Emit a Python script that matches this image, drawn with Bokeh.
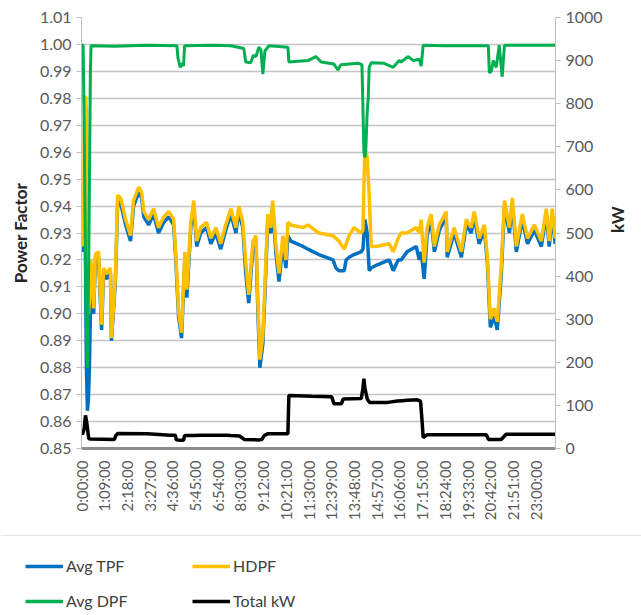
import math
from bokeh.plotting import figure
from bokeh.layouts import column
from bokeh.models import (Range1d, LinearAxis, FixedTicker, PrintfTickFormatter,
                          Legend, LegendItem, ColumnDataSource, Span)
from bokeh.embed import file_html
from bokeh.resources import INLINE

# ---------------- data (minutes since midnight) ----------------
X_LABELS = ["0:00:00", "1:09:00", "2:18:00", "3:27:00", "4:36:00", "5:45:00", "6:54:00",
            "8:03:00", "9:12:00", "10:21:00", "11:30:00", "12:39:00", "13:48:00", "14:57:00",
            "16:06:00", "17:15:00", "18:24:00", "19:33:00", "20:42:00", "21:51:00", "23:00:00"]
PF_TICKS = [0.85, 0.86, 0.87, 0.88, 0.89, 0.90, 0.91, 0.92, 0.93, 0.94, 0.95,
            0.96, 0.97, 0.98, 0.99, 1.00, 1.01]
KW_TICKS = [0, 100, 200, 300, 400, 500, 600, 700, 800, 900, 1000]

T_PF = [0, 3, 6, 9, 12, 15, 18, 21, 24, 27,
        30, 37, 42, 52, 61, 67, 76, 88, 91, 103,
        110, 119, 134, 149, 158, 174, 183, 189, 204, 219,
        234, 250, 265, 280, 286, 295, 304, 314, 320, 332,
        341, 350, 362, 380, 393, 408, 423, 438, 454, 469,
        478, 490, 499, 508, 521, 530, 536, 542, 551, 560,
        566, 575, 581, 591, 600, 612, 621, 627, 636, 673,
        688, 721, 764, 773, 782, 798, 804, 813, 828, 849,
        855, 861, 868, 874, 880, 895, 935, 947, 962, 971,
        989, 1017, 1026, 1032, 1041, 1050, 1062, 1072, 1087, 1108,
        1111, 1132, 1154, 1169, 1184, 1193, 1208, 1224, 1233, 1242,
        1254, 1263, 1275, 1285, 1300, 1309, 1321, 1339, 1355, 1376,
        1397, 1412, 1421, 1430, 1439]

HDPF = [0.943, 0.925, 0.930, 0.970, 0.981, 0.975, 0.930, 0.900, 0.905, 0.920,
        0.918, 0.902, 0.922, 0.923, 0.896, 0.917, 0.915, 0.917, 0.891, 0.914,
        0.944, 0.943, 0.935, 0.929, 0.942, 0.947, 0.945, 0.938, 0.935, 0.939,
        0.932, 0.936, 0.938, 0.935, 0.923, 0.901, 0.893, 0.923, 0.909, 0.934,
        0.942, 0.927, 0.932, 0.934, 0.928, 0.932, 0.926, 0.933, 0.939, 0.932,
        0.940, 0.934, 0.919, 0.907, 0.927, 0.929, 0.904, 0.883, 0.892, 0.919,
        0.937, 0.932, 0.942, 0.925, 0.915, 0.929, 0.920, 0.934, 0.933, 0.932,
        0.933, 0.930, 0.929, 0.928, 0.927, 0.924, 0.926, 0.929, 0.932, 0.930,
        0.931, 0.962, 0.958, 0.944, 0.925, 0.925, 0.926, 0.923, 0.928, 0.930,
        0.930, 0.932, 0.930, 0.935, 0.919, 0.932, 0.937, 0.925, 0.933, 0.938,
        0.923, 0.932, 0.923, 0.935, 0.932, 0.938, 0.928, 0.933, 0.921, 0.898,
        0.902, 0.897, 0.917, 0.942, 0.932, 0.943, 0.925, 0.937, 0.928, 0.933,
        0.927, 0.939, 0.927, 0.939, 0.928]

AVG_TPF = [0.940, 0.923, 0.928, 0.945, 0.920, 0.880, 0.864, 0.868, 0.880, 0.900,
           0.915, 0.900, 0.920, 0.921, 0.894, 0.915, 0.913, 0.915, 0.890, 0.912,
           0.942, 0.941, 0.933, 0.927, 0.940, 0.945, 0.943, 0.936, 0.933, 0.937,
           0.930, 0.934, 0.936, 0.933, 0.921, 0.899, 0.891, 0.921, 0.906, 0.932,
           0.940, 0.925, 0.930, 0.932, 0.926, 0.930, 0.924, 0.931, 0.937, 0.930,
           0.938, 0.932, 0.915, 0.904, 0.925, 0.927, 0.900, 0.880, 0.889, 0.916,
           0.935, 0.930, 0.940, 0.922, 0.912, 0.926, 0.917, 0.929, 0.927, 0.925,
           0.924, 0.922, 0.920, 0.917, 0.916, 0.916, 0.920, 0.921, 0.922, 0.923,
           0.924, 0.935, 0.930, 0.916, 0.917, 0.918, 0.920, 0.916, 0.920, 0.920,
           0.923, 0.925, 0.920, 0.923, 0.913, 0.929, 0.935, 0.923, 0.931, 0.936,
           0.921, 0.930, 0.921, 0.933, 0.930, 0.936, 0.926, 0.931, 0.919, 0.895,
           0.899, 0.894, 0.914, 0.940, 0.930, 0.941, 0.923, 0.935, 0.926, 0.931,
           0.925, 0.937, 0.925, 0.937, 0.926]

T_DPF = [0, 5, 8, 14, 18, 22, 25, 27, 29,
         100, 200, 290, 293, 300, 305, 310, 313,
         400, 454, 493, 499, 514, 522, 530, 539, 545, 551, 557, 569,
         627, 630, 688, 712, 728, 767, 779, 788, 840, 852,
         858, 861, 864, 868, 871, 874, 880,
         919, 947, 965, 971, 992, 1008, 1026, 1032, 1038,
         1100, 1236, 1239, 1245, 1251, 1260, 1269, 1278, 1285, 1439]
AVG_DPF = [1.0, 0.9995, 0.97, 0.90, 0.88, 0.92, 0.96, 0.99, 0.9995,
           0.9993, 0.9997, 0.9995, 0.995, 0.9915, 0.993, 0.992, 0.9995,
           0.9997, 0.9995, 0.9985, 0.9935, 0.9932, 0.996, 0.9955, 0.999, 0.998, 0.989, 0.9975, 0.9995,
           0.999, 0.9935, 0.994, 0.9955, 0.9935, 0.9927, 0.9905, 0.9925, 0.993, 0.9925,
           0.96, 0.958, 0.962, 0.975, 0.98, 0.9915, 0.9932,
           0.993, 0.9915, 0.994, 0.9935, 0.9955, 0.994, 0.9945, 0.992, 0.9997,
           0.9995, 0.9995, 0.9895, 0.990, 0.994, 0.9915, 0.9997, 0.988, 0.9997, 0.9997]

T_KW = [0, 3, 8, 12, 16, 22, 27,
        100, 104, 110, 200, 270, 285, 288, 300, 310, 313,
        340, 362, 440, 454, 480, 495, 540, 548, 555, 565,
        627, 630, 700, 760, 767, 790, 795, 850, 855, 858,
        861, 868, 875, 930, 960, 975, 990, 1020, 1030, 1035,
        1038, 1050, 1230, 1236, 1275, 1290, 1439]
TOTAL_KW = [35, 33, 45, 77, 60, 23, 22,
            21, 30, 35, 34, 31, 31, 20, 19, 19, 30,
            30, 31, 31, 30, 29, 21, 20, 21, 30, 34,
            34, 123, 121, 120, 104, 104, 115, 116, 140, 162,
            140, 115, 107, 107, 110, 111, 112, 113, 110, 60,
            25, 32, 32, 21, 21, 33, 33]

# ---------------- styling ----------------
FONT = "Lato"
TXT = "#595959"
C_TPF, C_HDPF, C_DPF, C_KW = "#0070C0", "#FFC000", "#00B050", "#000000"


def to_min(s):
    h, m, _ = s.split(":")
    return int(h) * 60 + int(m)


tick_min = [to_min(s) for s in X_LABELS]

src_pf = ColumnDataSource(dict(t=T_PF, tpf=AVG_TPF, hdpf=HDPF))
src_dpf = ColumnDataSource(dict(t=T_DPF, dpf=AVG_DPF))
src_kw = ColumnDataSource(dict(t=T_KW, kw=TOTAL_KW))

p = figure(frame_width=474, frame_height=431, output_backend="svg", toolbar_location=None,
           x_range=Range1d(0, 1440), y_range=Range1d(0.85, 1.01),
           min_border_left=81, min_border_right=80, min_border_top=17, min_border_bottom=80,
           background_fill_color="white", border_fill_color="white")
p.outline_line_color = None
p.extra_y_ranges = {"kw": Range1d(0, 1000)}

pf_ticker = FixedTicker(ticks=PF_TICKS)
ya = p.yaxis[0]
ya.ticker = pf_ticker
ya.formatter = PrintfTickFormatter(format="%.2f")
ya.axis_label = "Power Factor"
ya.axis_label_text_font = FONT
ya.axis_label_text_font_style = "bold"
ya.axis_label_text_font_size = "17px"
ya.axis_label_text_color = "#262626"
ya.axis_label_standoff = 6
ya.major_label_text_font = FONT
ya.major_label_text_font_size = "16px"
ya.major_label_text_color = TXT
ya.axis_line_color = "#bfbfbf"
ya.major_tick_line_color = "#bfbfbf"
ya.major_tick_out = 5
ya.major_tick_in = 0
ya.minor_tick_line_color = None

ra = LinearAxis(y_range_name="kw", ticker=FixedTicker(ticks=KW_TICKS), axis_label="kW")
ra.axis_label_text_font = FONT
ra.axis_label_text_font_style = "bold"
ra.axis_label_text_font_size = "17px"
ra.axis_label_text_color = "#262626"
ra.axis_label_standoff = 12
ra.axis_label_orientation = math.pi / 2
ra.major_label_text_font = FONT
ra.major_label_text_font_size = "16px"
ra.major_label_text_color = TXT
ra.axis_line_color = "#bfbfbf"
ra.major_tick_line_color = "#bfbfbf"
ra.major_tick_out = 5
ra.major_tick_in = 0
ra.minor_tick_line_color = None
p.add_layout(ra, "right")

xa = p.xaxis[0]
xa.ticker = FixedTicker(ticks=tick_min)
xa.major_label_overrides = {m: s for m, s in zip(tick_min, X_LABELS)}
xa.major_label_orientation = math.pi / 2
xa.major_label_text_font = FONT
xa.major_label_text_font_size = "15px"
xa.major_label_text_color = TXT
xa.axis_line_color = "#8c8c8c"
xa.axis_line_width = 3
xa.major_tick_line_color = None
xa.minor_tick_line_color = None
xa.major_label_standoff = 6

p.xgrid.visible = False
p.ygrid.ticker = pf_ticker
p.ygrid.grid_line_color = "#c4c4c4"
p.ygrid.grid_line_width = 1.5

p.line("t", "tpf", source=src_pf, line_color=C_TPF, line_width=3.5)
p.line("t", "hdpf", source=src_pf, line_color=C_HDPF, line_width=3.5)
p.line("t", "dpf", source=src_dpf, line_color=C_DPF, line_width=3)
p.line("t", "kw", source=src_kw, line_color=C_KW, line_width=3.5, y_range_name="kw")

# ---------------- legend strip below the chart ----------------
# Same series drawn again in a strip whose x range lies beyond the data,
# so only the legend samples are visible there.
LEG_H = 84
lf = figure(width=641, height=LEG_H, output_backend="svg", toolbar_location=None,
            x_range=Range1d(3000, 3641), y_range=Range1d(0, LEG_H),
            x_axis_type=None, y_axis_type=None,
            min_border_left=0, min_border_right=0, min_border_top=0, min_border_bottom=0,
            background_fill_color="white", border_fill_color="white")
for fig in (p, lf):
    try:
        fig.frame_align = False
    except Exception:
        pass
lf.outline_line_color = None
lf.xgrid.visible = False
lf.ygrid.visible = False
lf.add_layout(Span(location=LEG_H - 7, dimension="width", line_color="#e3e3e3", line_width=1))

l_tpf = lf.line("t", "tpf", source=src_pf, line_color=C_TPF, line_width=3.5)
l_hdpf = lf.line("t", "hdpf", source=src_pf, line_color=C_HDPF, line_width=3.5)
l_dpf = lf.line("t", "dpf", source=src_dpf, line_color=C_DPF, line_width=3.5)
l_kw = lf.line("t", "kw", source=src_kw, line_color=C_KW, line_width=3.5)


def make_legend(items, x):
    lg = Legend(items=items, location=(x, 2), orientation="vertical",
                glyph_width=38, glyph_height=16, label_height=16, label_standoff=3,
                spacing=16, padding=0, margin=0,
                label_text_font=FONT, label_text_font_size="16px", label_text_color="#404040",
                border_line_color=None, background_fill_alpha=0)
    lf.add_layout(lg, "center")


make_legend([LegendItem(label="Avg TPF", renderers=[l_tpf]),
             LegendItem(label="Avg DPF", renderers=[l_dpf])], 25)
make_legend([LegendItem(label="HDPF", renderers=[l_hdpf]),
             LegendItem(label="Total kW", renderers=[l_kw])], 192)

layout = column(p, lf, spacing=0)
open("out.html", "w").write(file_html(layout, INLINE))
